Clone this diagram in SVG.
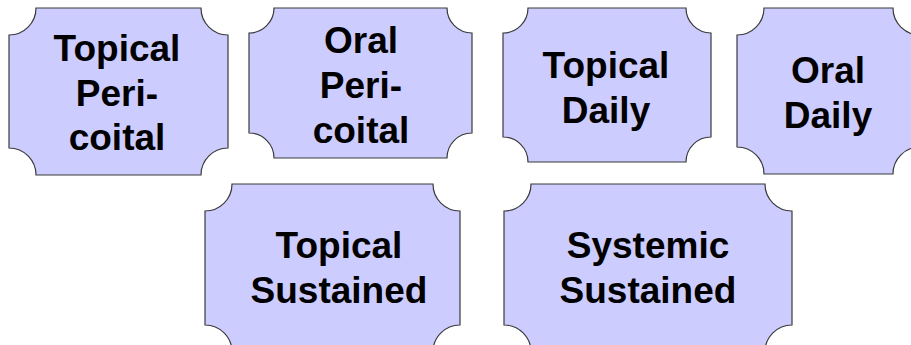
<svg xmlns="http://www.w3.org/2000/svg" width="911" height="345" viewBox="0 0 911 345">
<style>
.box{fill:#CCCCFF;stroke:#3a3a3a;stroke-width:1.2}
.t{font-family:"Liberation Sans",Arial,sans-serif;font-weight:bold;font-size:37px;fill:#000;text-anchor:middle}
</style>
<rect width="911" height="345" fill="#fff"/>
<g id="n1">
<path class="box" d="M36,8 H201 A27,27 0 0 0 228,35 V148 A27,27 0 0 0 201,175 H36 A27,27 0 0 0 9,148 V35 A27,27 0 0 0 36,8 Z"/>
<text class="t" x="117" y="61">Topical</text>
<text class="t" x="117" y="106">Peri-</text>
<text class="t" x="117" y="150">coital</text>
</g>
<g id="n2">
<path class="box" d="M274,8 H447 A25,25 0 0 0 472,33 V133 A25,25 0 0 0 447,158 H274 A25,25 0 0 0 249,133 V33 A25,25 0 0 0 274,8 Z"/>
<text class="t" x="361" y="53">Oral</text>
<text class="t" x="361" y="98">Peri-</text>
<text class="t" x="361" y="143">coital</text>
</g>
<g id="n3">
<path class="box" d="M528,8 H686 A25,25 0 0 0 711,33 V137 A25,25 0 0 0 686,162 H528 A25,25 0 0 0 503,137 V33 A25,25 0 0 0 528,8 Z"/>
<text class="t" x="606" y="78">Topical</text>
<text class="t" x="606" y="123">Daily</text>
</g>
<g id="n4">
<path class="box" d="M764,8 H893 A27,27 0 0 0 920,35 V147 A27,27 0 0 0 893,174 H764 A27,27 0 0 0 737,147 V35 A27,27 0 0 0 764,8 Z"/>
<text class="t" x="828" y="83">Oral</text>
<text class="t" x="828" y="128">Daily</text>
</g>
<g id="n5">
<path class="box" d="M232,184 H433 A27,27 0 0 0 460,211 V325 A27,27 0 0 0 433,352 H232 A27,27 0 0 0 205,325 V211 A27,27 0 0 0 232,184 Z"/>
<text class="t" x="339" y="258">Topical</text>
<text class="t" x="339" y="303">Sustained</text>
</g>
<g id="n6">
<path class="box" d="M531,184 H765 A27,27 0 0 0 792,211 V325 A27,27 0 0 0 765,352 H531 A27,27 0 0 0 504,325 V211 A27,27 0 0 0 531,184 Z"/>
<text class="t" x="648" y="258">Systemic</text>
<text class="t" x="648" y="303">Sustained</text>
</g>
<g id="connectors"/>
</svg>
